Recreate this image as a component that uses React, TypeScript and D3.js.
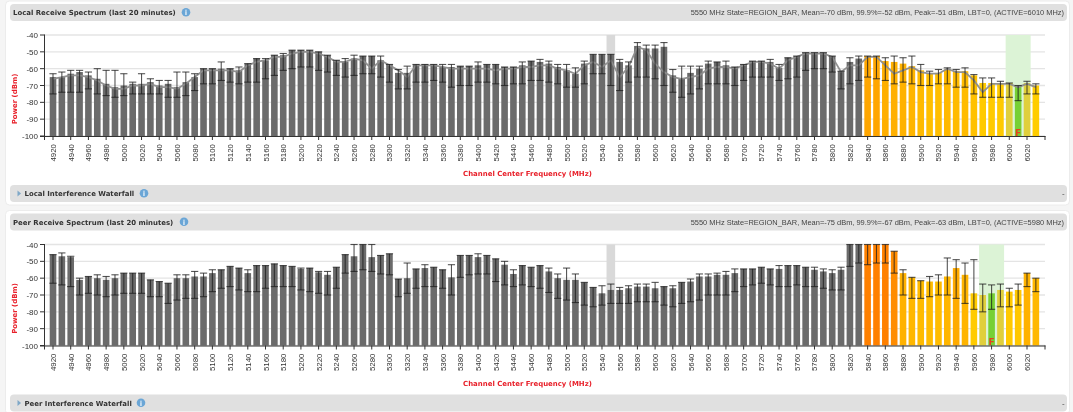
import React from 'react';
import * as d3 from 'd3';

const freqs = d3.range(4920, 6031, 10);
const freqTicks = d3.range(4920, 6021, 20);
const powerTicks = [-40, -50, -60, -70, -80, -90, -100];

const localTop = [
  -65,-65,-63,-62,-64,-66,-69,-71,-70,-69,
  -69,-68,-70,-69,-71,-68,-65,-60,-60,-60,
  -60,-61,-57,-54,-55,-52,-52,-49,-49,-49,
  -50,-52,-55,-56,-54,-52.5,-52.5,-55,-57.5,-62.5,
  -62.5,-57.5,-57.5,-57.5,-59,-59,-58.5,-58.5,-58,-57.5,
  -57.5,-59,-59,-58,-55.5,-56,-57,-59,-61,-63,
  -57,-51.5,-51.5,-51.5,-56,-58,-46.5,-48,-48,-47,
  -64,-66,-62.5,-60,-57,-56,-58,-59,-57.5,-55.5,
  -55.5,-56,-59.5,-53.5,-52.5,-50.5,-50.5,-50.5,-52.5,-61.5,
  -56,-54,-52.5,-52.5,-55.5,-56,-57,-58.5,-61,-63,
  -62.5,-60.5,-61.5,-61.5,-64,-68.5,-68.5,-68.5,-68.5,-70,
  -68.5,-70,
];
const localHigh = [
  -63,-62,-61,-61,-62,-60,-61,-61,-63,-68,
  -63,-66,-67,-67,-62,-62,-63,-60,-60,-56,
  -60,-59,-57,-54,-54,-52,-51,-49,-49,-49,
  -50,-52,-55,-54,-52,-52.5,-52.5,-52.5,-57.5,-60.5,
  -58.5,-57.5,-57.5,-57.5,-57.5,-57.5,-58.5,-58.5,-56,-57.5,
  -57.5,-59,-59,-56,-55.5,-54.5,-55.5,-57.5,-57.5,-59.5,
  -55.5,-51.5,-51.5,-51.5,-54.5,-56,-44.5,-46,-46,-44.5,
  -60.5,-58.5,-58.5,-58.5,-55.5,-56,-55.5,-59,-57.5,-55.5,
  -55.5,-54.5,-57.5,-53.5,-52.5,-50.5,-50.5,-50.5,-52.5,-61.5,
  -53.5,-52.5,-52.5,-52.5,-53.5,-52.5,-53.5,-52.5,-57.5,-61.5,
  -60.5,-59.5,-60.5,-59.5,-63.5,-65.5,-65.5,-67.5,-68.5,-70,
  -67.5,-69,
];
const localLow = [
  -75,-74,-74,-74,-72,-75,-76,-77,-76,-75,
  -75,-75,-75,-77,-77,-76,-73,-69,-69,-67,
  -68,-69,-68,-68,-66,-64,-61,-60,-59,-59,
  -61,-62,-64,-65,-64,-63,-63,-65,-68,-72,
  -72,-68,-68,-67,-68,-71,-70,-70,-68,-68,
  -69,-70,-69,-69,-67,-67,-68,-69,-71,-71,
  -69,-63,-63,-70,-73,-68,-65,-65,-66,-70,
  -74,-77,-75,-72,-69,-69,-69,-70,-67,-65,
  -65,-65,-67,-66,-65,-61,-60,-60,-62,-72,
  -69,-67,-65,-66,-67,-69,-68,-69,-70,-70,
  -69,-69,-71,-71,-75,-77,-77,-77,-77,-79,
  -75,-75,
];
const localMean = [
  -66,-65,-64,-64,-65,-67,-70,-72,-72,-70,
  -70,-69,-71,-71,-72,-69,-65,-61,-61,-61,
  -61,-62,-58,-56,-55,-53,-53,-51,-50,-50,
  -51,-53,-56,-56,-54,-55,-60,-55,-58,-61,
  -65,-58,-58,-58,-59,-60,-60,-60,-60,-60,
  -61,-60,-60,-59,-59,-58,-58,-60,-61,-63,
  -58,-56,-59,-55,-65,-59,-47,-49,-57,-62,
  -65,-66,-65,-64,-60,-59,-59,-60,-58,-56,
  -56,-57,-60,-55,-53,-51,-51,-51,-53,-62,
  -58,-58,-53,-53,-58,-63,-61,-59,-62,-63,
  -63,-60,-62,-62,-67,-74,-69,-69,-69,-71,
  -69,-71,
];

const peerTop = [
  -46,-47,-47.5,-61,-59,-60,-61,-60,-57,-57,
  -57,-61,-62,-63,-60,-60,-59,-59,-57,-55,
  -53,-54,-57,-52.5,-52.5,-51.5,-52.5,-53,-54.5,-54,
  -56.5,-58,-53.5,-46,-47,-40,-47.5,-46.5,-45.5,-60.5,
  -60,-54.5,-54,-53.5,-55,-59.5,-46.5,-46.5,-47.5,-46.5,
  -48.5,-52,-57.5,-52.5,-53.5,-52.5,-56,-60,-61,-61,
  -62.5,-65.5,-69,-67,-67,-66,-65,-65,-66,-65,
  -66,-62.5,-62,-59,-59,-58,-58,-57,-54.5,-54.5,
  -53.5,-54.5,-54.5,-52.5,-52.5,-53.5,-55,-56,-57,-55,
  -40,-40,-40,-40,-40,-44,-57,-59.5,-61.5,-62,
  -62,-59,-54,-58,-69,-70,-69,-67,-68,-67,
  -57,-60,
];
const peerHigh = [
  -46,-45,-47,-60,-59,-58,-59,-58,-57,-57,
  -57,-61,-62,-63,-58,-58,-56,-57,-55,-55,
  -53,-54,-55,-52.5,-52.5,-51.5,-52.5,-53,-54,-54,
  -56,-56,-53.5,-46,-40,-40,-40,-46.5,-45.5,-60.5,
  -51,-54.5,-52,-53.5,-55,-52,-46.5,-46.5,-45.5,-46.5,
  -48.5,-50,-55,-52.5,-53.5,-52.5,-54,-57.5,-54,-57.5,
  -62.5,-65.5,-64.5,-63.5,-65.5,-64.5,-63.5,-63.5,-62.5,-65,
  -64.5,-62.5,-60.5,-57.5,-57.5,-57,-56,-54.5,-54.5,-54.5,
  -53.5,-54.5,-52.5,-52.5,-52.5,-53.5,-53.5,-54.5,-55,-53.5,
  -40,-40,-40,-40,-40,-44,-55,-59.5,-61.5,-59,
  -58,-48,-49,-51,-49,-63.5,-64,-63.5,-66,-63.5,
  -57,-60,
];
const peerLow = [
  -63,-64,-65,-70,-69,-70,-71,-70,-69,-69,
  -69,-71,-71,-75,-73,-72,-72,-71,-68,-66,
  -65,-67,-68,-68,-66,-65,-65,-65,-67,-68,
  -69,-70,-66,-57,-56,-55,-56,-57.5,-58,-71,
  -69,-66,-65,-65,-66,-70,-59.5,-58,-57.5,-57.5,
  -62,-64,-65,-64,-65,-66,-68.5,-72,-73,-74.5,
  -76,-77,-76,-75,-75,-75,-74,-74,-74,-76,
  -77,-75,-74,-73,-70,-70,-70,-68,-65,-64,
  -63,-64,-65,-65,-64,-65,-65,-66,-67,-67,
  -53,-51,-52,-51,-51,-57,-70,-72,-72,-71,
  -70,-70,-72,-75,-78.5,-80,-78.5,-77,-77,-76,
  -65,-68,
];

const W = 1073;
const H = 412;
const barWidth = 6.6;
const capHalf = 3.6;
const x = d3.scaleLinear().domain([4920, 6020]).range([53, 1027]);
const y = d3.scaleLinear().domain([-40, -100]).range([35, 136]);
const heat = d3.scaleLinear<string>().domain([-40, -55, -70]).range(['#ff8000', '#ffae00', '#ffcd00']);
const meanLine = d3.line<number>().x((_, i) => x(freqs[i])).y((v) => y(v));

const sans = '"Liberation Sans", Arial, sans-serif';
const bold = '"DejaVu Sans", Verdana, sans-serif';

function InfoIcon({ cx, cy }: { cx: number; cy: number }) {
  return (
    <g>
      <circle cx={cx} cy={cy} r={4.3} fill="#6ba6d6" />
      <text x={cx} y={cy + 2.7} textAnchor="middle" fontFamily={bold} fontWeight={700} fontSize={7} fill="#e8f2fa">i</text>
    </g>
  );
}

type PanelProps = {
  dy: number; title: string; titleIcon: number; status: string; waterfall: string; waterfallIcon: number;
  top: number[]; high: number[]; low: number[]; mean?: number[]; active: number;
};

function Panel({ dy, title, titleIcon, status, waterfall, waterfallIcon, top, high, low, mean, active }: PanelProps) {
  const base = y(-100);
  const color = (f: number, v: number) => {
    if (f === active) return '#76d035';
    if (Math.abs(f - active) === 10) return '#e0cf3c';
    if (f < 5840) return '#6b6b6b';
    return heat(v);
  };
  return (
    <g transform={`translate(0,${dy})`}>
      <rect x={5.5} y={1} width={1064} height={204} rx={4} fill="#fff" stroke="#ececec" />
      <rect x={10} y={4} width={1057} height={17} rx={4} fill="#e0e0e0" />
      <rect x={10} y={185} width={1057} height={17} rx={4} fill="#e0e0e0" />
      <text x={13} y={15} fontFamily={bold} fontWeight={700} fontSize={6.95} fill="#333">{title}</text>
      <InfoIcon cx={titleIcon} cy={12.3} />
      <text x={1064} y={15} textAnchor="end" fontFamily={sans} fontSize={7.45} fill="#444">{status}</text>
      <path d="M17.5 190.5 L21 193.5 L17.5 196.5 Z" fill="#7fa8c8" />
      <text x={24.5} y={196} fontFamily={bold} fontWeight={700} fontSize={6.95} fill="#333">{waterfall}</text>
      <InfoIcon cx={waterfallIcon} cy={193.3} />
      <text x={1062} y={196} fontFamily={sans} fontSize={8} fill="#444">-</text>

      {powerTicks.map((t) => (
        <line key={t} x1={44.5} x2={1045} y1={y(t)} y2={y(t)} stroke="#e4e4e4" strokeWidth={1.4} />
      ))}
      <rect x={x(5550) - 4.3} y={y(-40)} width={8.6} height={base - y(-40)} fill="#d9d9d9" />
      <rect x={x(active) - 12.5} y={y(-40)} width={25} height={base - y(-40)} fill="#dcf3d6" />

      {freqs.map((f, i) => (
        <rect key={f} x={x(f) - barWidth / 2} y={y(top[i])} width={barWidth} height={base - y(top[i])} fill={color(f, top[i])} />
      ))}
      <text x={x(active)} y={base - 0.5} textAnchor="middle" fontFamily={bold} fontWeight={700} fontSize={9} fill="#e8401c">F</text>

      {mean && <path d={meanLine(mean) ?? ''} fill="none" stroke="#8c8c8c" strokeOpacity={0.95} strokeWidth={1.8} />}

      {freqs.map((f, i) => (
        <g key={f} stroke="#1c1c1c" strokeOpacity={0.75} strokeWidth={1.1}>
          <line x1={x(f)} x2={x(f)} y1={y(high[i])} y2={y(low[i])} />
          <line x1={x(f) - capHalf} x2={x(f) + capHalf} y1={y(high[i])} y2={y(high[i])} />
          <line x1={x(f) - capHalf} x2={x(f) + capHalf} y1={y(low[i])} y2={y(low[i])} />
        </g>
      ))}

      <line x1={44.5} x2={44.5} y1={y(-40) - 0.5} y2={base + 4} stroke="#333" />
      <line x1={40} x2={1045.5} y1={base + 0.5} y2={base + 0.5} stroke="#333" />
      {powerTicks.map((t) => (
        <g key={t}>
          <line x1={40} x2={44.5} y1={y(t)} y2={y(t)} stroke="#333" />
          <text x={38} y={y(t) + 3} textAnchor="end" fontFamily={sans} fontSize={8} fill="#333">{t}</text>
        </g>
      ))}
      <line x1={1045} x2={1045} y1={base} y2={base + 4} stroke="#333" />
      {freqTicks.map((f) => (
        <g key={f}>
          <line x1={x(f)} x2={x(f)} y1={base} y2={base + 4} stroke="#333" />
          <text transform={`translate(${x(f) + 3},${base + 8}) rotate(-90)`} textAnchor="end" fontFamily={sans} fontSize={7.9} fill="#333">{f}</text>
        </g>
      ))}
      <text x={527.5} y={176} textAnchor="middle" fontFamily={bold} fontWeight={700} fontSize={6.95} fill="#e8202a">Channel Center Frequency (MHz)</text>
      <text transform="translate(17,99) rotate(-90)" textAnchor="middle" fontFamily={bold} fontWeight={700} fontSize={6.95} fill="#e8202a">Power (dBm)</text>
    </g>
  );
}

export default function App() {
  return (
    <svg width={W} height={H} viewBox={`0 0 ${W} ${H}`} style={{ position: 'absolute', left: 0, top: 0, background: '#f5f5f5', filter: 'blur(0.35px)' }}>
      <Panel
        dy={0}
        title="Local Receive Spectrum (last 20 minutes)"
        titleIcon={186}
        status="5550 MHz State=REGION_BAR, Mean=-70 dBm, 99.9%=-52 dBm, Peak=-51 dBm, LBT=0, (ACTIVE=6010 MHz)"
        waterfall="Local Interference Waterfall"
        waterfallIcon={144}
        top={localTop}
        high={localHigh}
        low={localLow}
        mean={localMean}
        active={6010}
      />
      <Panel
        dy={209.5}
        title="Peer Receive Spectrum (last 20 minutes)"
        titleIcon={184}
        status="5550 MHz State=REGION_BAR, Mean=-75 dBm, 99.9%=-67 dBm, Peak=-63 dBm, LBT=0, (ACTIVE=5980 MHz)"
        waterfall="Peer Interference Waterfall"
        waterfallIcon={141}
        top={peerTop}
        high={peerHigh}
        low={peerLow}
        active={5980}
      />
    </svg>
  );
}
